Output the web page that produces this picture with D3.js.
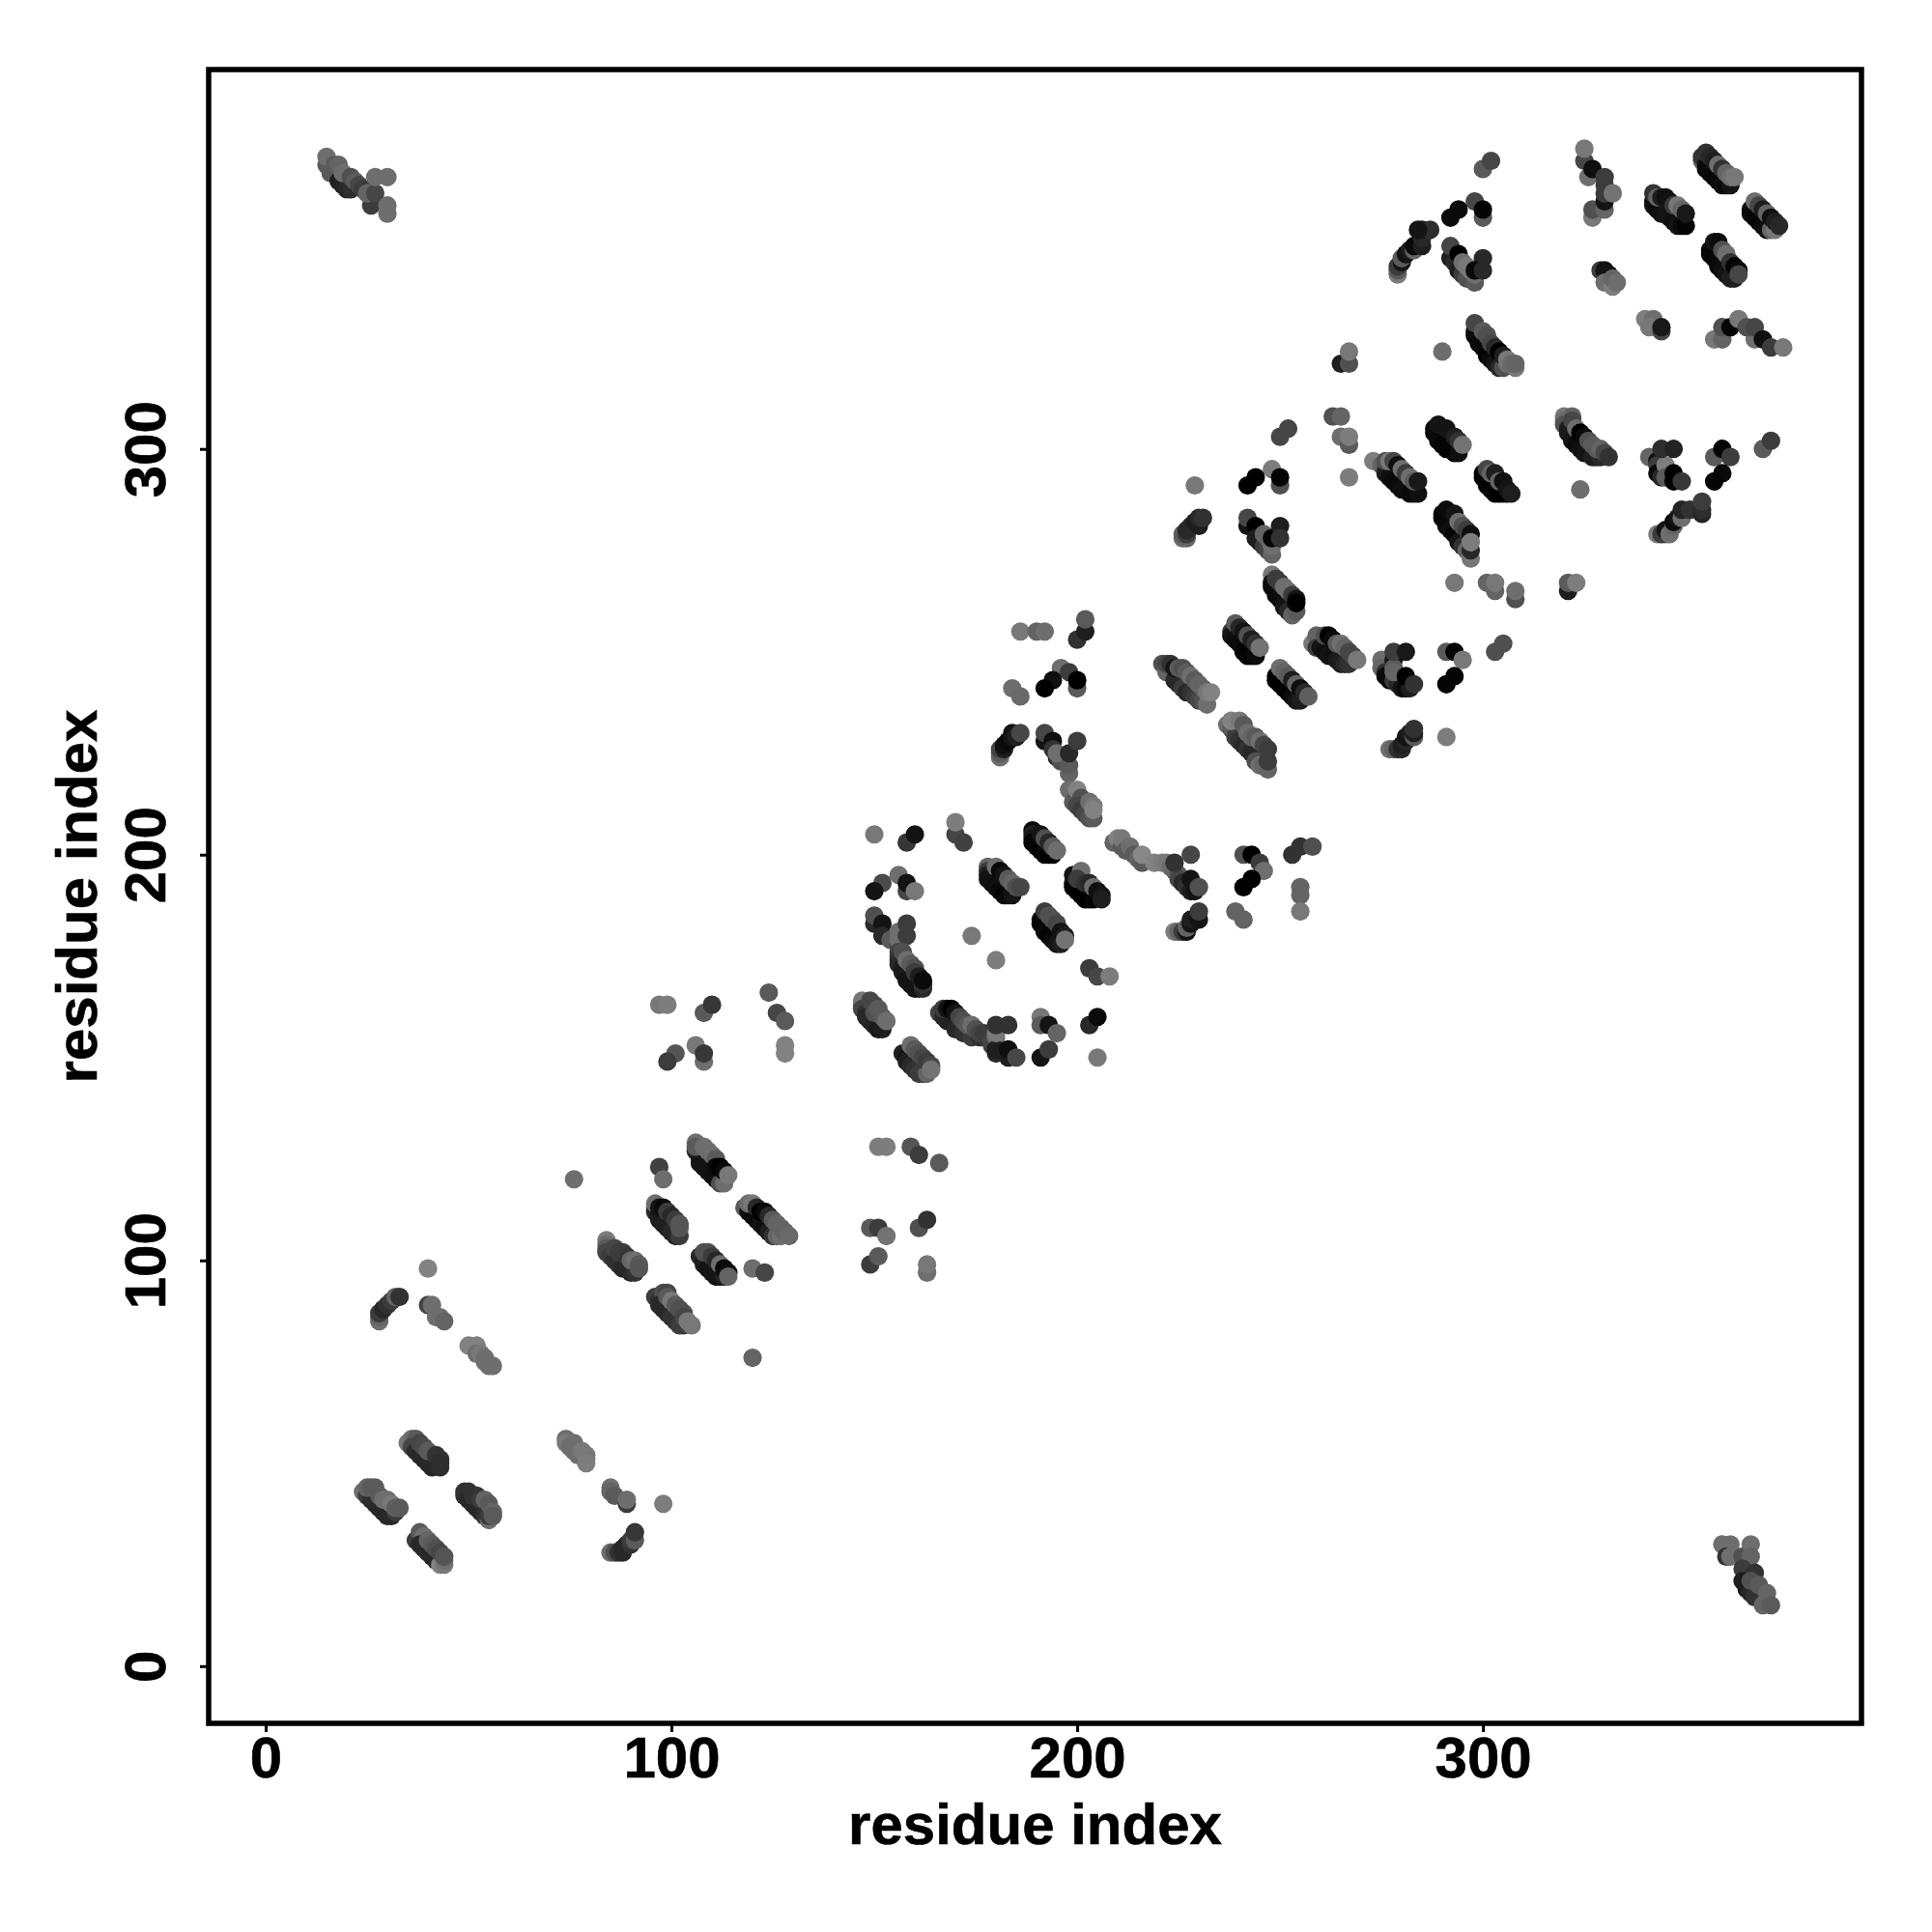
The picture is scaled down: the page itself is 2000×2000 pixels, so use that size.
<!DOCTYPE html>
<html><head><meta charset="utf-8">
<script src="https://cdn.jsdelivr.net/npm/d3@7/dist/d3.min.js"></script>
<style>html,body{margin:0;background:#fff}svg{display:block}text{font-family:"Liberation Sans",Arial,sans-serif;font-weight:bold;fill:#000}</style>
</head><body><svg id="c" width="2000" height="2000"></svg>
<script>
// each row: residue i, residue j, grey level (0 black .. 135 mid grey); later rows are on top
const xTicks=[0,100,200,300], yTicks=[0,100,200,300];
const axisTitle="residue index";
const cornerTL=[[15,370,90],[15,372,110],[16,368,90],[17,370,90],[18,370,100],[18,366,30],[19,365,35],[20,364,40],[21,364,45],[19,368,110],[21,367,80],[22,366,90],[23,365,70],[24,364,60],[26,360,60],[25,363,100],[27,363,70],[27,367,110],[30,367,110],[30,358,110],[30,360,110]];
const cornerBR=[[359,30,110],[361,30,110],[360,27,50],[361,27,110],[364,27,80],[366,30,110],[366,27,100],[364,24,60],[364,21,30],[365,19,30],[366,18,40],[367,17,50],[367,23,50],[366,21,80],[368,20,90],[369,15,100],[370,18,100],[371,15,90]];
const swA=[[40,98,130],[28,85,110],[28,86,100],[28,87,60],[29,88,40],[30,89,50],[31,90,60],[32,91,100],[33,91,50],[40,89,70],[41,89,110],[42,86,110],[43,86,110],[44,85,100],[50,79,130],[52,79,130],[52,77,110],[53,77,120],[54,76,110],[54,75,110],[55,74,110],[56,74,110]];
const swB=[[35,55,120],[36,56,110],[37,56,90],[36,54,70],[37,53,45],[38,52,40],[39,51,40],[40,50,40],[41,49,40],[38,55,70],[39,54,75],[40,53,90],[42,52,50],[43,51,50],[43,50,45],[43,49,45]];
const swC=[[24,43,110],[25,42,60],[26,41,45],[27,40,45],[28,39,40],[29,38,40],[30,37,40],[31,37,40],[32,38,60],[25,44,100],[26,44,90],[27,44,90],[28,42,90],[29,41,110],[30,41,110],[31,40,120],[32,39,95],[33,39,90]];
const swD=[[49,43,50],[50,43,50],[49,42,50],[50,41,40],[51,40,40],[52,39,40],[53,38,40],[54,37,50],[55,36,110],[55,37,60],[51,42,50],[52,42,50],[53,41,60],[54,41,100],[55,40,90],[56,38,100],[56,37,90]];
const swE=[[37,31,60],[38,33,90],[39,32,110],[38,30,40],[39,29,40],[40,28,40],[41,27,40],[42,26,40],[43,25,130],[44,25,120],[40,31,100],[41,30,90],[42,29,80],[43,28,70],[44,26,110],[44,27,85]];
const swF=[[74,56,110],[74,55,120],[75,54,110],[76,53,110],[76,55,110],[77,52,110],[78,53,120],[79,52,120],[79,51,120],[79,50,125],[85,44,110],[85,43,100],[86,42,90],[89,40,60],[89,41,110],[98,40,125],[85,28,110],[86,28,80],[87,28,50],[88,28,40],[88,29,40],[89,30,40],[90,30,50],[90,31,60],[91,31,90],[91,33,55]];
const mA=[[76,120,110],[97,123,65],[98,120,110],[106,127,40],[107,125,30],[107,124,20],[108,123,20],[109,122,20],[110,121,15],[111,120,15],[112,119,80],[113,119,110],[106,129,110],[106,128,90],[108,128,110],[109,127,110],[110,126,110],[111,125,90],[111,123,10],[112,123,0],[113,122,10],[114,121,120]];
const mB=[[96,113,110],[96,112,40],[97,111,20],[97,110,30],[98,109,30],[99,108,30],[100,107,40],[101,106,40],[102,106,60],[96,114,110],[97,113,20],[98,113,10],[99,112,60],[100,111,40],[101,110,60],[102,109,85],[102,108,85]];
const mC=[[118,113,90],[119,112,15],[120,111,10],[121,110,10],[122,109,20],[123,108,15],[124,107,30],[125,106,50],[126,106,100],[127,106,110],[119,114,110],[120,114,120],[121,113,40],[122,112,0],[123,112,10],[124,111,40],[125,110,90],[126,109,100],[127,108,100],[128,107,100],[129,106,105]];
const mD=[[84,105,125],[84,104,110],[84,103,90],[84,102,70],[85,101,60],[86,100,50],[87,99,50],[88,98,40],[89,98,40],[90,97,40],[91,97,50],[86,103,70],[87,102,60],[88,102,60],[89,101,55],[90,100,100],[91,100,110],[92,99,90],[92,98,85]];
const mE=[[107,101,40],[108,100,30],[108,99,30],[109,98,20],[110,97,20],[111,96,20],[112,96,20],[113,96,30],[108,102,80],[109,102,80],[110,101,60],[111,100,40],[112,99,110],[113,98,10],[114,97,15],[114,96,100],[120,98,110],[123,97,70],[120,76,100]];
const mF=[[96,91,60],[97,90,50],[98,92,80],[97,89,40],[98,88,40],[99,87,40],[100,86,50],[101,85,50],[102,84,60],[103,84,60],[99,92,70],[99,91,90],[100,90,120],[101,89,90],[102,88,80],[103,87,80],[103,86,70],[104,85,120],[105,84,120]];
const mG=[[97,163,120],[99,163,125],[108,161,90],[110,163,55],[124,166,90],[126,161,70],[128,159,90],[106,153,120],[108,149,110],[108,151,55],[101,151,85],[99,149,60],[128,153,130],[128,151,130]];
const mH=[[151,128,125],[153,128,125],[159,128,85],[161,126,60],[166,124,90],[149,108,90],[151,108,60],[153,106,115],[149,99,60],[151,101,90],[161,108,80],[163,110,50],[163,97,110],[163,99,120]];
const nA=[[147,163,80],[147,164,120],[147,162,70],[148,161,50],[148,160,40],[149,159,40],[150,158,35],[151,157,25],[152,157,30],[149,164,70],[150,163,70],[150,161,80],[151,162,90],[152,160,90],[153,159,110]];
const nB=[[157,151,30],[158,150,20],[158,149,30],[159,148,40],[160,147,50],[161,146,60],[162,146,60],[163,146,100],[159,153,110],[160,152,90],[161,151,80],[162,150,70],[163,149,60],[164,148,70],[164,147,115]];
const nC=[[150,205,120],[158,203,55],[160,205,20],[170,205,70],[170,208,125],[172,203,65],[156,195,110],[152,193,75],[150,191,20],[158,191,70],[158,193,20],[160,191,120]];
const nD=[[150,183,40],[150,185,80],[152,183,20],[152,180,40],[154,179,90],[156,178,70],[156,179,110],[156,181,110],[158,183,60],[158,180,60]];
const nE=[[156,176,70],[156,175,60],[156,174,50],[156,173,40],[157,172,30],[157,171,25],[158,170,25],[158,169,20],[159,168,20],[160,167,20],[161,167,20],[162,167,40],[162,168,50],[157,176,80],[158,174,110],[159,173,90],[160,172,80],[160,171,60],[161,170,30],[162,169,10],[174,180,120],[180,174,125]];
const nF=[[166,161,70],[167,160,40],[168,159,35],[170,157,40],[172,156,50],[174,155,60],[176,155,50],[178,155,60],[167,162,60],[168,162,20],[169,162,0],[170,161,20],[171,160,70],[172,159,80],[173,158,90],[174,158,110],[175,157,80],[176,156,70],[177,156,60],[179,153,60],[179,154,70],[180,155,110],[180,151,40],[180,152,30],[180,156,120],[180,158,50],[183,158,50],[183,150,30],[183,152,15],[185,150,70]];
const nG=[[191,160,120],[191,158,90],[193,158,20],[195,156,100],[191,150,20],[193,152,60],[203,158,40],[205,160,10],[205,150,120],[203,172,60],[205,170,70],[208,170,125]];
const cA=[[189,206,10],[189,205,30],[189,204,20],[189,203,5],[190,202,5],[191,201,0],[192,200,10],[193,200,0],[194,200,0],[191,205,20],[192,204,80],[193,203,40],[194,202,90],[195,201,110]];
const cB=[[178,197,100],[178,196,60],[178,195,30],[178,194,20],[179,193,15],[180,192,15],[181,191,10],[182,190,0],[183,190,10],[184,190,20],[180,197,110],[181,196,10],[182,195,20],[183,194,90],[184,193,100],[185,192,80],[186,192,70]];
const cC=[[199,193,0],[199,192,0],[200,191,0],[201,190,0],[202,189,0],[203,189,0],[204,189,5],[199,195,20],[201,196,110],[200,194,60],[202,193,50],[203,193,40],[204,192,110],[205,191,15],[206,190,20],[206,189,30]];
const cD=[[191,184,10],[191,183,5],[192,182,5],[192,181,10],[193,180,5],[194,179,10],[195,178,20],[196,178,30],[192,186,60],[193,185,80],[194,184,80],[195,183,70],[196,181,20],[197,180,30],[197,179,115]];
const cE=[[209,203,100],[210,204,130],[211,202,90],[211,204,120],[212,201,90],[213,202,110],[214,200,90],[215,199,100],[216,198,90],[216,200,135]];
const cF=[[219,198,130],[221,198,125],[222,198,120],[223,197,110],[224,196,100],[225,195,90],[225,194,70],[226,193,40],[227,192,50],[228,191,30],[229,191,20],[224,198,50],[228,200,70],[228,194,20],[230,192,80]];
const cG=[[224,181,125],[225,181,100],[226,181,60],[227,181,20],[227,182,100],[228,183,20],[228,184,30],[229,184,30],[230,184,20],[230,186,60]];
const cH=[[241,200,80],[243,200,0],[245,198,60],[246,196,110],[243,194,0],[241,192,0],[253,200,50],[255,202,50],[258,202,80],[255,190,100],[255,192,100],[255,186,120],[239,186,100],[241,184,100]];
const dA=[[186,255,120],[190,255,100],[192,255,110],[200,253,50],[202,255,30],[202,258,90],[196,246,110],[198,245,60],[200,241,90],[200,243,0],[194,243,15],[192,241,0],[184,241,110],[186,239,105]];
const dB=[[181,224,110],[181,225,90],[181,226,70],[182,226,30],[182,227,15],[183,228,10],[184,229,20],[184,230,20],[185,229,30],[186,230,70]];
const dC=[[192,228,20],[192,230,70],[194,228,15],[194,226,50],[195,224,40],[196,223,80],[195,225,110],[198,220,100],[198,222,90],[198,225,40],[200,228,60]];
const dD=[[198,216,110],[199,213,90],[200,216,130],[201,214,80],[200,212,70],[201,211,60],[202,210,70],[203,209,80],[204,209,90],[203,213,110],[204,212,120],[204,211,130]];
const eA=[[221,247,80],[222,245,100],[222,247,70],[224,243,40],[225,242,40],[226,241,60],[227,240,40],[228,240,50],[229,239,60],[230,238,70],[231,238,80],[232,237,110],[223,247,50],[224,246,20],[225,246,90],[226,246,80],[227,245,90],[228,244,110],[229,243,90],[230,242,100],[231,241,100],[232,240,120],[233,240,130]];
const eB=[[237,232,110],[238,231,90],[239,229,60],[240,228,50],[241,227,40],[242,226,50],[243,225,40],[244,223,80],[245,222,110],[246,222,100],[247,221,100],[238,233,130],[240,233,120],[241,232,90],[242,230,110],[243,229,100],[244,229,90],[245,228,110],[246,227,70],[247,226,60],[247,223,60]];
const eC=[[238,255,60],[238,254,20],[239,253,15],[240,252,10],[241,250,5],[242,249,5],[243,249,5],[244,249,10],[239,257,90],[240,256,40],[241,255,20],[242,254,80],[243,253,30],[244,252,50],[245,251,115]];
const eD=[[249,244,5],[249,243,0],[250,242,0],[251,241,0],[252,240,5],[253,239,10],[254,238,20],[255,238,30],[250,246,110],[251,245,100],[252,244,90],[253,243,30],[254,242,100],[255,241,15],[256,240,40],[257,239,95]];
const eE=[[258,252,120],[259,254,100],[259,251,60],[260,251,20],[261,250,15],[262,249,20],[263,249,15],[264,248,25],[265,247,30],[266,247,40],[267,247,50],[261,254,80],[262,254,0],[263,253,10],[264,252,90],[265,252,110],[266,251,100],[267,250,70],[268,249,70],[269,248,120]];
const eF=[[275,248,110],[275,246,100],[276,245,50],[276,244,10],[277,243,10],[278,243,60],[279,242,40],[280,241,20],[281,241,10],[282,241,30],[278,248,20],[278,246,90],[278,245,100],[278,250,60],[281,250,25],[281,244,0],[283,242,50]];
const eG=[[291,250,90],[293,250,5],[295,248,120],[293,244,5],[291,242,5],[303,250,80],[305,252,80],[277,226,110],[278,226,100],[279,226,50],[280,226,40],[280,227,30],[281,228,40],[281,229,20],[282,230,30],[283,229,90],[283,230,30],[283,231,50],[291,229,125]];
const jA=[[265,321,30],[267,321,80],[267,324,120],[263,308,80],[265,308,100],[265,303,110],[267,301,90],[267,303,125],[267,293,125],[250,303,70],[252,305,70],[248,295,125],[250,291,80],[250,293,5],[244,293,0],[242,291,0],[229,291,120]];
const jB=[[226,278,110],[227,278,100],[226,279,90],[227,279,60],[227,280,40],[228,281,40],[229,282,30],[230,281,30],[230,283,40],[231,283,50]];
const jC=[[242,281,20],[242,283,70],[244,281,0],[244,278,30],[245,277,30],[246,276,60],[247,275,70],[248,274,100],[246,279,100],[247,278,100],[248,276,110],[248,278,5],[250,281,30],[250,278,50]];
const jD=[[248,269,120],[248,267,20],[248,266,10],[249,265,10],[249,264,10],[250,263,10],[251,262,15],[251,261,20],[252,260,40],[253,259,100],[254,260,90],[249,268,60],[250,267,60],[251,266,110],[252,265,110],[253,264,60],[254,263,20],[254,262,0]];
const fA=[[293,267,120],[301,267,100],[303,265,100],[303,267,120],[308,263,80],[308,265,110],[321,265,30],[321,267,90],[323,267,125],[324,290,110],[290,324,110]];
const fB=[[288,305,10],[288,304,10],[289,302,10],[290,301,5],[291,300,5],[292,300,5],[293,299,5],[294,299,15],[289,306,20],[291,305,20],[293,303,30],[294,302,50],[295,301,115]];
const fC=[[273,297,125],[275,296,100],[276,295,70],[276,294,30],[277,293,15],[278,292,10],[279,291,10],[280,290,15],[281,290,15],[282,289,10],[283,289,10],[284,289,15],[276,297,80],[277,297,120],[278,297,70],[279,296,15],[280,295,110],[281,294,60],[282,293,110],[283,292,90],[284,292,25]];
const fD=[[300,294,5],[300,293,0],[301,291,5],[302,290,5],[303,289,5],[304,289,0],[305,289,0],[306,289,0],[301,295,70],[302,294,100],[303,294,30],[304,292,100],[305,292,15],[306,290,20],[307,289,30]];
const fE=[[290,284,5],[290,283,5],[291,281,10],[292,280,15],[293,279,5],[294,277,20],[295,276,50],[296,275,100],[297,273,120],[297,275,40],[291,285,10],[293,284,20],[294,282,110],[295,281,80],[296,280,60],[297,279,15],[297,277,125]];
const gA=[[320,308,120],[320,307,110],[320,306,80],[321,305,30],[321,304,25],[322,302,20],[323,301,10],[324,300,15],[325,299,20],[326,299,20],[327,298,30],[328,298,30],[329,298,40],[322,308,100],[322,307,70],[323,305,110],[324,304,0],[325,303,10],[326,302,80],[327,301,90],[328,300,90],[329,300,100],[330,299,70],[331,298,50]];
const gB=[[341,298,100],[343,297,15],[343,296,60],[343,294,10],[344,293,40],[345,296,125],[345,293,90],[347,292,5],[347,294,0],[344,300,45],[347,300,35],[349,292,55],[357,298,90],[359,300,5],[361,298,60],[359,294,10],[357,292,5],[369,300,90],[371,302,60]];
const gC=[[343,279,125],[345,279,100],[344,279,60],[345,280,20],[346,279,110],[347,281,100],[347,282,10],[348,283,20],[349,283,110],[349,285,35],[351,285,50],[354,284,35],[354,285,45],[354,287,60]];
const hA=[[326,367,110],[325,371,70],[327,369,15],[325,374,120],[327,357,120],[327,359,80],[330,359,100],[330,361,20],[330,363,60],[330,365,60],[330,367,60],[332,363,115],[300,369,90],[302,371,70],[298,361,70],[300,357,90],[300,359,5],[294,359,10],[292,357,10]];
const hB=[[279,343,125],[279,344,90],[279,345,60],[280,346,20],[280,347,90],[281,348,20],[282,349,30],[283,349,100],[283,350,10],[285,350,30],[285,352,40],[285,354,30],[287,354,45],[284,354,20]];
const hC=[[292,347,30],[293,346,40],[294,344,30],[295,343,60],[296,342,80],[298,341,90],[292,350,70],[294,348,0],[295,346,110],[296,345,120],[297,344,120],[298,343,110],[300,347,40],[298,344,10],[300,344,40]];
const hD=[[298,329,20],[298,328,10],[299,326,10],[300,325,10],[301,323,5],[302,322,10],[303,321,20],[304,320,40],[305,320,80],[306,321,110],[308,320,120],[298,331,70],[300,329,90],[301,328,80],[302,326,70],[303,325,40],[304,324,0],[305,323,30],[306,322,120],[307,321,105],[308,321,100]];
const iA=[[342,360,20],[342,361,15],[343,359,10],[344,358,15],[345,358,20],[346,357,20],[347,356,15],[348,355,20],[349,355,10],[350,355,5],[342,363,50],[343,362,100],[344,362,30],[345,362,15],[346,361,20],[347,360,60],[348,360,120],[349,359,100],[350,358,25]];
const iB=[[354,371,100],[354,372,50],[355,370,20],[355,369,10],[356,368,10],[357,367,5],[358,366,10],[359,365,15],[360,365,10],[361,365,20],[355,373,50],[356,372,40],[357,371,30],[358,370,110],[359,369,50],[360,368,100],[361,367,110],[362,367,120]];
const iC=[[366,359,20],[366,358,10],[367,357,5],[368,356,5],[369,355,10],[370,354,15],[371,354,100],[372,354,120],[367,361,110],[368,360,70],[369,359,30],[370,358,100],[371,357,15],[372,356,30],[373,355,40]];
const iD=[[356,349,10],[356,348,5],[357,347,5],[358,345,10],[359,344,15],[360,343,20],[361,342,30],[362,342,30],[357,351,20],[358,351,10],[359,349,80],[360,348,110],[361,346,50],[362,345,5],[363,344,10],[363,343,70]];
const iE=[[329,344,60],[330,344,20],[331,343,20],[330,341,110],[332,340,125],[332,342,100],[333,341,110],[340,332,125],[342,332,110],[341,330,120],[344,329,70],[344,330,25]];
const iF=[[357,327,120],[359,327,100],[359,330,80],[361,330,5],[367,327,110],[363,332,120],[365,330,80],[367,330,70],[369,327,15],[371,325,60],[374,325,120]];

const groups=[cornerTL,cornerBR,swA,swB,swC,swD,swE,swF,mA,mB,mC,mD,mE,mF,mG,mH,nA,nB,nC,nD,nE,nF,nG,cA,cB,cC,cD,cE,cF,cG,cH,dA,dB,dC,dD,eA,eB,eC,eD,eE,eF,eG,jA,jB,jC,jD,fA,fB,fC,fD,fE,gA,gB,gC,hA,hB,hC,hD,iA,iB,iC,iD,iE,iF];
const points=groups.flat();

const x=d3.scaleLinear().domain([-14.05,393.3]).range([216,1927]);
const y=d3.scaleLinear().domain([-14.1,393.5]).range([1784,72]);
const svg=d3.select('#c');
svg.append('g').selectAll('circle').data(points).join('circle')
  .attr('cx',d=>x(d[0])).attr('cy',d=>y(d[1])).attr('r',9.6)
  .attr('fill',d=>d3.rgb(d[2],d[2],d[2]).formatHex());
svg.append('rect').attr('x',216).attr('y',72).attr('width',1711).attr('height',1712)
  .attr('fill','none').attr('stroke','#000').attr('stroke-width',5.5);
const gx=svg.append('g').attr('transform','translate(0,1784)')
  .call(d3.axisBottom(x).tickValues(xTicks).tickSize(9).tickFormat(d3.format('d')));
const gy=svg.append('g').attr('transform','translate(216,0)')
  .call(d3.axisLeft(y).tickValues(yTicks).tickSize(9).tickFormat(d3.format('d')));
[gx,gy].forEach(g=>{g.select('.domain').remove();g.selectAll('line').attr('stroke','#000').attr('stroke-width',3);
  g.selectAll('text').attr('font-size',60).attr('font-family','"Liberation Sans"').attr('font-weight','bold').attr('fill','#000').attr('stroke','#000').attr('stroke-width',0.6).attr('dy',0);});
gx.selectAll('text').attr('y',56);
gy.selectAll('text').attr('x',0).attr('y',-45).attr('text-anchor','middle').attr('transform','rotate(-90)');
svg.append('text').attr('x',1071.5).attr('y',1909).attr('text-anchor','middle').attr('font-size',60).attr('stroke','#000').attr('stroke-width',0.6).text(axisTitle);
svg.append('text').attr('transform','translate(99.5,928) rotate(-90)').attr('text-anchor','middle').attr('font-size',60).attr('stroke','#000').attr('stroke-width',0.6).text(axisTitle);
</script></body></html>
